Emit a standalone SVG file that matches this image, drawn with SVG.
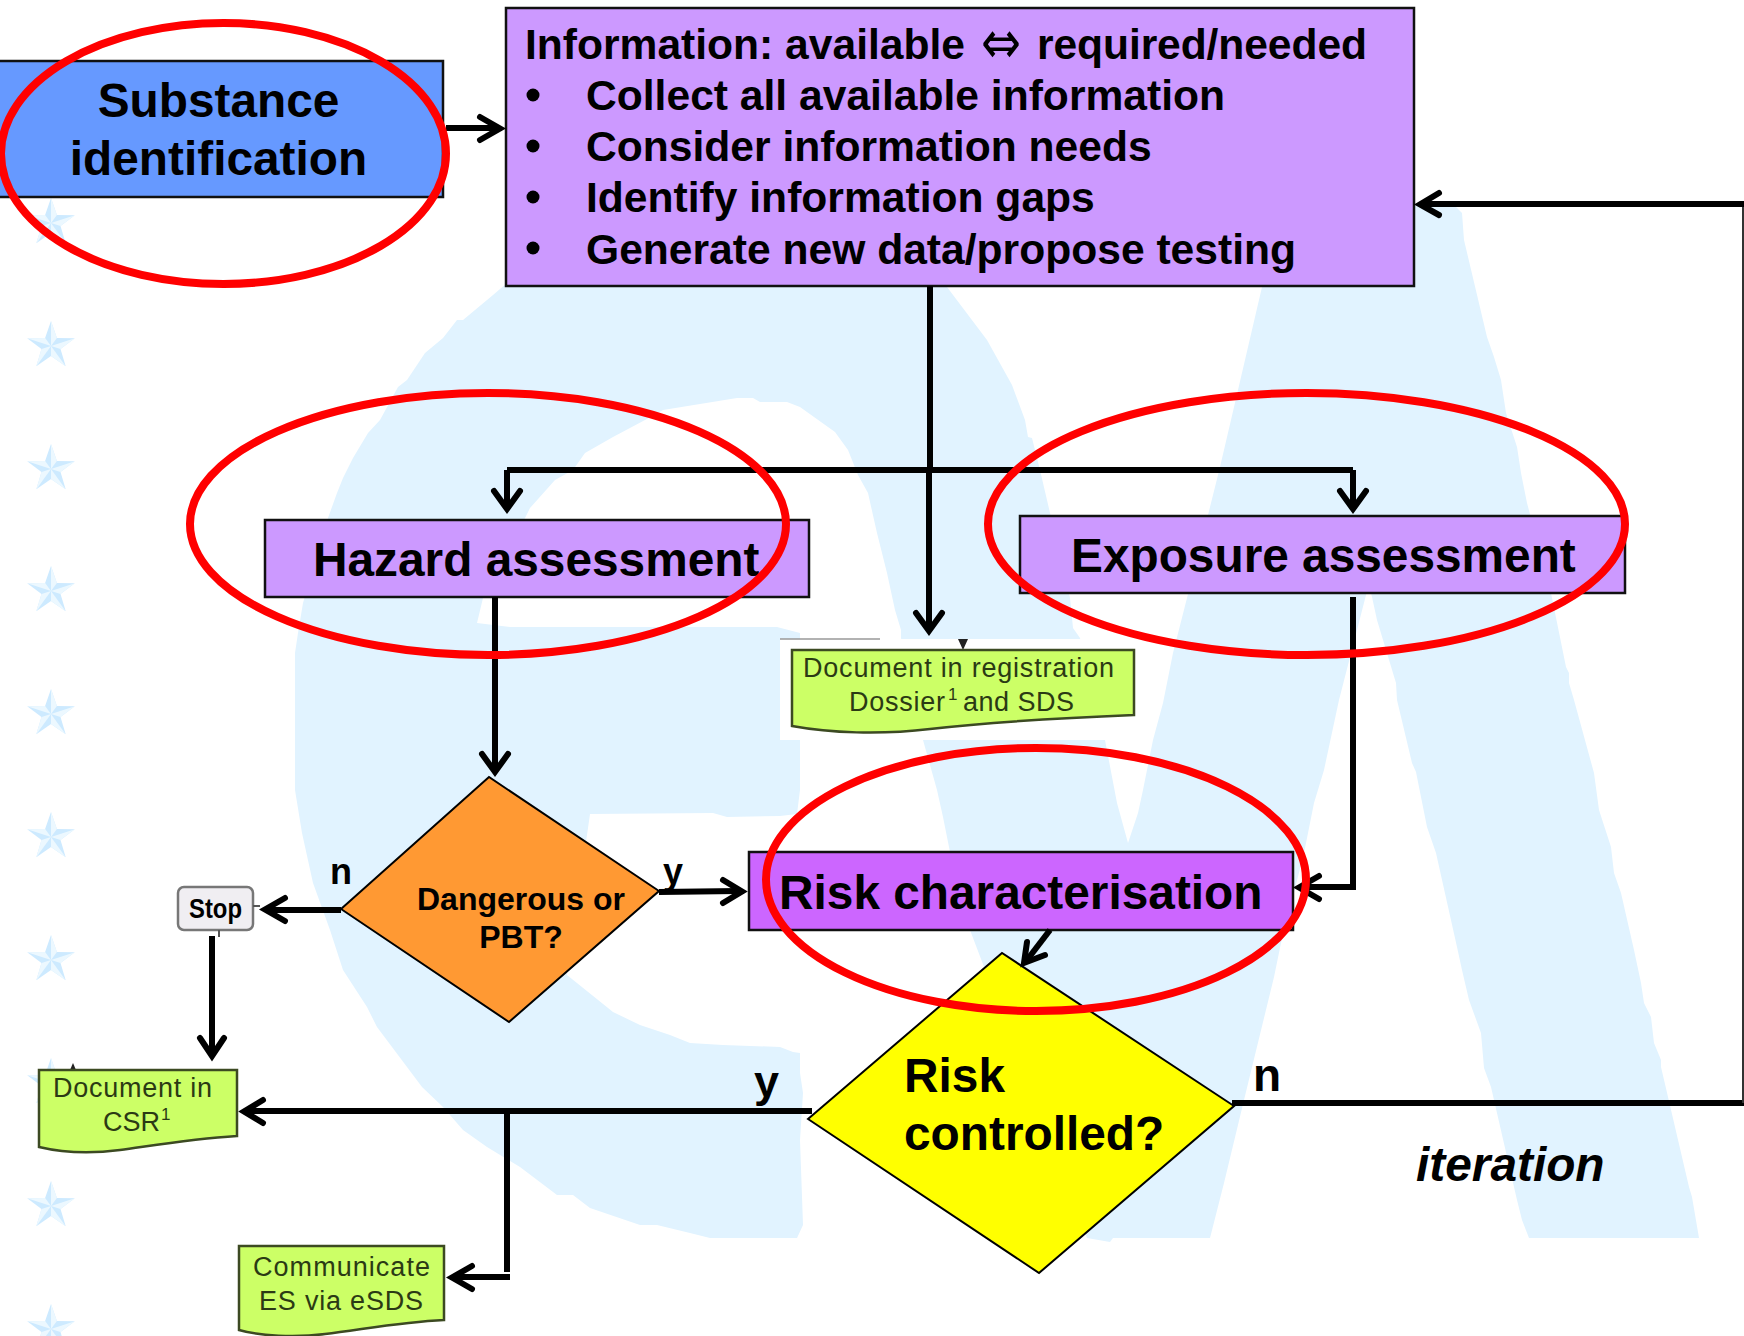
<svg xmlns="http://www.w3.org/2000/svg" xmlns:xlink="http://www.w3.org/1999/xlink" width="1744" height="1336" viewBox="0 0 1744 1336">
<style>
text{font-family:"Liberation Sans",Arial,"DejaVu Sans",sans-serif;fill:#000}
.b{font-weight:bold}
.t475{font-size:47.8px;font-weight:bold}
.info{font-size:42.6px;font-weight:bold}
.dia{font-size:32px;font-weight:bold}
.doc{font-size:27px;fill:#2b3a14}
.box{stroke:#111;stroke-width:2.5}
.dm{stroke:#000;stroke-width:2}
.green{fill:#ccff66;stroke:#3c4a22;stroke-width:2.5}
.ring{fill:none;stroke:#ff0000;stroke-width:8}
.ln{fill:none;stroke:#000;stroke-width:6}
.hd{fill:none;stroke:#000;stroke-width:6;stroke-linecap:round;stroke-linejoin:miter}
</style>
<defs>
<g id="star">
<polygon fill="#cdeaff" points="0,-25 5.9,-8.1 23.8,-7.7 9.5,3.1 14.7,20.2 0,10 -14.7,20.2 -9.5,3.1 -23.8,-7.7 -5.9,-8.1"/>
<polygon fill="#ecf8ff" points="0,0 0,-25 5.9,-8.1"/>
<polygon fill="#ecf8ff" points="0,0 23.8,-7.7 9.5,3.1"/>
<polygon fill="#ecf8ff" points="0,0 14.7,20.2 0,10"/>
<polygon fill="#ecf8ff" points="0,0 -14.7,20.2 -9.5,3.1"/>
<polygon fill="#ecf8ff" points="0,0 -23.8,-7.7 -5.9,-8.1"/>
</g>
</defs>
<rect width="1744" height="1336" fill="#ffffff"/>
<g id="background">
<polygon fill="#e1f3ff" points="507,283 700,270 930,270 947,287 987,340 1012,385 1025,420 1028,437 1032,438 1040,470 1050,513 1070,598 1073,628 1080,638 1095,700 1105,740 1117,803 1128,843 1138,813 1143,790 1153,740 1163,703 1173,653 1187,598 1208,515 1220,467 1238,390 1262,287 1290,205 1454,205 1462,213 1464,240 1487,337 1494,357 1501,380 1506,413 1517,447 1521,473 1527,503 1551,593 1566,667 1569,673 1569,683 1574,700 1594,773 1599,810 1611,847 1614,873 1621,893 1634,950 1641,983 1644,1003 1651,1017 1654,1043 1661,1060 1661,1067 1689,1187 1692,1197 1699,1238 1529,1238 1522,1220 1517,1200 1514,1187 1491,1087 1484,1068 1481,1033 1469,1000 1462,970 1457,947 1436,853 1427,827 1416,772 1412,763 1397,700 1396,683 1377,620 1372,597 1369,585 1366,595 1339,700 1324,770 1314,803 1304,853 1281,943 1274,977 1244,1100 1224,1183 1210,1238 1113,1238 1110,1242 1087,1238 970,930 950,852 943,817 937,790 923,740 901,638 901,630 895,610 887,573 877,533 868,493 858,475 848,450 835,432 800,407 787,402 760,402 753,398 737,398 663,410 645,420 613,437 585,453 573,470 555,480 530,508 525,518 483,598 477,623 510,627 777,627 800,633 800,790 797,814 780,816 727,817 713,813 590,814 567,975 613,1012 640,1025 670,1035 690,1043 723,1045 780,1047 793,1052 800,1053 800,1073 803,1093 800,1140 803,1225 797,1238 710,1238 690,1233 657,1225 640,1225 590,1208 573,1195 557,1195 520,1167 487,1147 463,1130 443,1107 422,1087 377,1027 367,1007 343,970 330,930 313,883 302,833 295,790 295,653 298,633 303,603 328,518 337,493 343,478 353,458 368,433 380,420 398,387 407,380 425,353 443,338 457,320 463,320 493,295"/>
<use xlink:href="#star" href="#star" x="51" y="223"/>
<use xlink:href="#star" href="#star" x="51" y="346"/>
<use xlink:href="#star" href="#star" x="51" y="469"/>
<use xlink:href="#star" href="#star" x="51" y="591"/>
<use xlink:href="#star" href="#star" x="51" y="714"/>
<use xlink:href="#star" href="#star" x="51" y="837"/>
<use xlink:href="#star" href="#star" x="51" y="960"/>
<use xlink:href="#star" href="#star" x="51" y="1083"/>
<use xlink:href="#star" href="#star" x="51" y="1206"/>
<use xlink:href="#star" href="#star" x="51" y="1329"/>
</g>
<g id="node-substance">
<rect class="box" x="-4" y="61" width="447" height="136" fill="#6699ff"/>
<text class="t475" x="218.5" y="117" text-anchor="middle">Substance</text>
<text class="t475" x="218.5" y="175" text-anchor="middle">identification</text>
</g>
<g id="node-information">
<rect class="box" x="506" y="8" width="908" height="278" fill="#cc99ff"/>
<text class="info" y="59"><tspan x="525" textLength="440" lengthAdjust="spacing">Information: available</tspan><tspan x="981" y="63" font-size="60" font-family="'DejaVu Sans',sans-serif" font-weight="normal" textLength="40" lengthAdjust="spacingAndGlyphs">⇔</tspan><tspan x="1037" y="59" textLength="330" lengthAdjust="spacing">required/needed</tspan></text>
<circle cx="533" cy="95" r="6.5"/><text class="info" x="586" y="110">Collect all available information</text>
<circle cx="533" cy="146" r="6.5"/><text class="info" x="586" y="161">Consider information needs</text>
<circle cx="533" cy="197" r="6.5"/><text class="info" x="586" y="212">Identify information gaps</text>
<circle cx="533" cy="248" r="6.5"/><text class="info" x="586" y="264">Generate new data/propose testing</text>
</g>
<g id="node-hazard">
<rect class="box" x="265" y="520" width="544" height="77" fill="#cc99ff"/>
<text class="t475" x="313" y="576">Hazard assessment</text>
</g>
<g id="node-exposure">
<rect class="box" x="1020" y="516" width="605" height="77" fill="#cc99ff"/>
<text class="t475" x="1071" y="572">Exposure assessment</text>
</g>
<g id="node-document-dossier">
<rect x="780" y="639" width="363" height="101" fill="#ffffff"/>
<line x1="780" y1="639" x2="880" y2="639" stroke="#999" stroke-width="1.5"/>
<polygon points="958,639 968,639 963,650" fill="#222"/>
<path class="green" d="M792,650 H1134 V715 C1060,718 990,722 930,729 C880,735 830,733 792,726 Z"/>
<text class="doc" x="803" y="677" textLength="311" lengthAdjust="spacing">Document in registration</text>
<text class="doc" y="711"><tspan x="849" textLength="96" lengthAdjust="spacing">Dossier</tspan><tspan x="948" y="700" font-size="17">1</tspan><tspan x="963" y="711" textLength="111" lengthAdjust="spacing">and SDS</tspan></text>
</g>
<g id="node-dangerous">
<polygon class="dm" points="341,909 489,777 659,891 509,1022" fill="#ff9933"/>
<text class="dia" x="521" y="910" text-anchor="middle">Dangerous or</text>
<text class="dia" x="521" y="948" text-anchor="middle">PBT?</text>
</g>
<g id="node-stop">
<rect x="178" y="887" width="75" height="43" rx="6" fill="#f0eef2" stroke="#777" stroke-width="2.5"/>
<text class="b" x="189" y="918" font-size="27" textLength="53" lengthAdjust="spacingAndGlyphs" fill="#111">Stop</text>
<line x1="219" y1="930" x2="219" y2="937" stroke="#555" stroke-width="2"/>
<line x1="253" y1="906" x2="260" y2="906" stroke="#555" stroke-width="2"/>
</g>
<g id="node-risk-char">
<rect class="box" x="749" y="852" width="544" height="78" fill="#cc66ff"/>
<text class="t475" x="779" y="909">Risk characterisation</text>
</g>
<g id="node-risk-controlled">
<polygon class="dm" points="808,1119 1002,953 1234,1106 1039,1273" fill="#ffff00"/>
<text class="t475" x="904" y="1092">Risk</text>
<text class="t475" x="904" y="1150">controlled?</text>
</g>
<g id="node-document-csr">
<polygon points="73,1063 70,1070 76,1070" fill="#222"/>
<path class="green" d="M39,1070 H237 V1136 C190,1139 150,1146 120,1150 C90,1154 60,1152 39,1147 Z"/>
<text class="doc" x="53" y="1097" textLength="159" lengthAdjust="spacing">Document in</text>
<text class="doc" y="1131"><tspan x="103">CSR</tspan><tspan x="161" y="1120" font-size="17">1</tspan></text>
</g>
<g id="node-communicate">
<path class="green" d="M239,1246 H444 V1320 C400,1322 360,1330 325,1334 C295,1338 260,1336 239,1330 Z"/>
<text class="doc" x="253" y="1276" textLength="177" lengthAdjust="spacing">Communicate</text>
<text class="doc" x="259" y="1310" textLength="164" lengthAdjust="spacing">ES via eSDS</text>
</g>
<g id="labels">
<text class="b" x="330" y="884" font-size="36">n</text>
<text class="b" x="663" y="884" font-size="36">y</text>
<text class="b" x="754" y="1097" font-size="45">y</text>
<text class="b" x="1253" y="1091" font-size="46">n</text>
<text class="t475" x="1416" y="1181" font-style="italic">iteration</text>
</g>
<g id="connectors">
<path class="ln" d="M446,128 H496"/>
<path class="hd" d="M480,117 L500,128.500 L480,140"/>
<path class="ln" d="M930,286 V470 M929,470 V628"/>
<path class="hd" d="M916,613 L929,631 L942,613"/>
<path class="ln" d="M507,470 H1353"/>
<path class="ln" d="M507,470 V505"/>
<path class="hd" d="M494,491 L507,509 L520,491"/>
<path class="ln" d="M1353,470 V505"/>
<path class="hd" d="M1340,491 L1353,509 L1366,491"/>
<path class="ln" d="M495,597 V768"/>
<path class="hd" d="M482,754 L495,772 L508,754"/>
<path class="ln" d="M341,910 H268"/>
<path class="hd" d="M285,898 L265,909.500 L285,921"/>
<path class="ln" d="M659,892 L738,891"/>
<path class="hd" d="M723,880 L742,891.500 L723,903"/>
<path class="ln" d="M212,936 V1052"/>
<path class="hd" d="M200,1038 L212,1056 L224,1038"/>
<path class="ln" d="M1353,597 V890 M1356,887 H1303"/>
<path class="hd" d="M1319,876 L1299,887.500 L1319,899"/>
<path class="ln" d="M1050,930 L1027,960"/>
<path class="hd" d="M1027,942 L1024,963 L1045,955"/>
<path class="ln" d="M812,1111 H248"/>
<path class="hd" d="M263,1100 L244,1111.500 L263,1123"/>
<path class="ln" d="M507,1111 V1272 M510,1277 H456"/>
<path class="hd" d="M472,1266 L452,1277.500 L472,1289"/>
<path class="ln" d="M1232,1103 H1744"/>
<path d="M1743,204 V1103" fill="none" stroke="#333" stroke-width="2"/>
<path class="ln" d="M1744,204 H1423"/>
<path class="hd" d="M1439,193 L1420,204.500 L1439,215"/>
</g>
<g id="highlight-rings">
<ellipse class="ring" cx="223.500" cy="153.500" rx="222.500" ry="130.500"/>
<ellipse class="ring" cx="488" cy="524" rx="298" ry="131"/>
<ellipse class="ring" cx="1306.500" cy="524" rx="318.500" ry="131"/>
<ellipse class="ring" cx="1036" cy="879.500" rx="270" ry="131.500"/>
</g>
</svg>
